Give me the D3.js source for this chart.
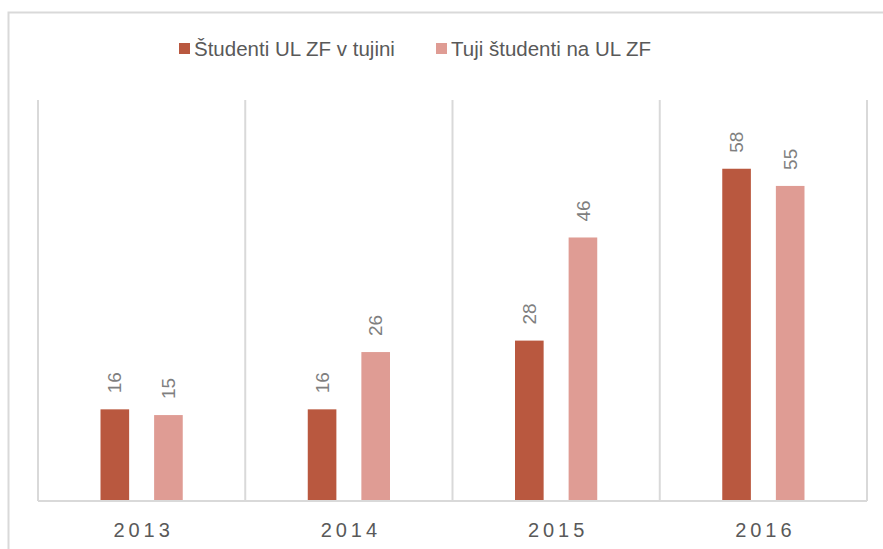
<!DOCTYPE html>
<html>

<head>
  <meta charset="utf-8">
  <title>Študenti UL ZF</title>
  <script src="https://cdn.jsdelivr.net/npm/d3@7"></script>
  <style type="text/css">
    html,
    body {
      margin: 0;
      padding: 0;
      background: #fff;
    }

    svg {
      display: block;
      font-family: Arial, "Liberation Sans", sans-serif;
    }

    .grid line {
      stroke: #d9d9d9;
      stroke-width: 2px;
    }

    .axis text {
      font-size: 20px;
      fill: #595959;
      letter-spacing: 4px;
    }

    .label {
      font-size: 19px;
      fill: #7f7f7f;
    }

    .legend text {
      font-size: 20.5px;
      fill: #595959;
    }
  </style>
</head>

<body>
  <svg class="svg"></svg>
  <script type="text/javascript">
    var years = ['2013', '2014', '2015', '2016'];
    var seriesNames = ['Študenti UL ZF v tujini', 'Tuji študenti na UL ZF'];
    var outgoing = [16, 16, 28, 58];
    var incoming = [15, 26, 46, 55];
    var colors = ['#b9583f', '#df9c94'];

    var W = 883, H = 549;
    var plotLeft = 38, plotRight = 867, plotTop = 100, plotBottom = 501;

    var svg = d3.select('.svg')
      .attr('width', W)
      .attr('height', H);

    // okvir grafa
    svg.append('rect')
      .attr('x', 8.5)
      .attr('y', 12.5)
      .attr('width', W + 20)
      .attr('height', H + 20)
      .attr('fill', 'none')
      .attr('stroke', '#d9d9d9')
      .attr('stroke-width', 2);

    var data = years.map((y, i) => ({ year: y, values: [outgoing[i], incoming[i]] }));

    var x0 = d3.scaleBand()
      .domain(years)
      .range([plotLeft, plotRight])
      .padding(0);

    var x1 = d3.scaleBand()
      .domain([0, 1])
      .range([0, x0.bandwidth()])
      .paddingInner(0.466)
      .paddingOuter(1.166);

    var yScale = d3.scaleLinear()
      .domain([0, 70])
      .range([plotBottom, plotTop]);

    // navpične črte med kategorijami
    var bounds = years.map(d => x0(d)).concat([plotRight]);
    svg.append('g')
      .attr('class', 'grid')
      .selectAll('line')
      .data(bounds)
      .enter()
      .append('line')
      .attr('x1', d => d)
      .attr('x2', d => d)
      .attr('y1', plotTop)
      .attr('y2', plotBottom);

    // stolpci
    var groups = svg.selectAll('.year')
      .data(data)
      .enter()
      .append('g')
      .attr('class', 'year')
      .attr('transform', d => `translate(${x0(d.year)},0)`);

    groups.selectAll('rect')
      .data(d => d.values)
      .enter()
      .append('rect')
      .attr('x', (d, i) => x1(i))
      .attr('y', d => yScale(d))
      .attr('width', x1.bandwidth())
      .attr('height', d => plotBottom - yScale(d))
      .attr('fill', (d, i) => colors[i]);

    // oznake vrednosti (zasukane)
    groups.selectAll('text')
      .data(d => d.values)
      .enter()
      .append('text')
      .attr('class', 'label')
      .attr('transform', (d, i) => `translate(${x1(i) + x1.bandwidth() / 2},${yScale(d) - 16}) rotate(-90)`)
      .attr('dy', '0.35em')
      .text(d => d);

    // os x
    var xAxis = d3.axisBottom(x0)
      .tickSize(0)
      .tickPadding(22);

    var gx = svg.append('g')
      .attr('class', 'axis')
      .attr('transform', `translate(0,${plotBottom})`)
      .call(xAxis);

    gx.select('.domain').remove();
    gx.selectAll('.tick text').attr('dx', 2);
    gx.attr('font-family', null).attr('font-size', null);

    svg.append('g')
      .attr('class', 'grid')
      .append('line')
      .attr('x1', plotLeft)
      .attr('x2', plotRight)
      .attr('y1', plotBottom)
      .attr('y2', plotBottom);

    // legenda
    var legendX = [179, 436];
    var legend = svg.append('g')
      .attr('class', 'legend')
      .selectAll('g')
      .data(seriesNames)
      .enter()
      .append('g')
      .attr('transform', (d, i) => `translate(${legendX[i]},43)`);

    legend.append('rect')
      .attr('width', 11)
      .attr('height', 11)
      .attr('fill', (d, i) => colors[i]);

    legend.append('text')
      .attr('x', 15)
      .attr('y', 13)
      .text(d => d);
  </script>
</body>

</html>
